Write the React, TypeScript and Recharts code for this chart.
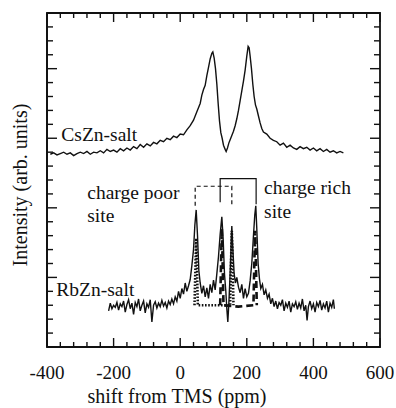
import React from 'react';
import { LineChart, Line, XAxis, YAxis, ReferenceDot, ReferenceArea, Label } from 'recharts';

const serif = '"Liberation Serif", "Times New Roman", serif';
const ink = '#111';
const PLOT_W = 333;
const PLOT_H = 334;
const W = 396;
const H = 408;

// x axis (ppm)
const shiftTicks = [-400, -200, 0, 200, 400, 600];
const shiftMinorTicks = [-360, -320, -280, -240, -160, -120, -80, -40, 40, 80, 120, 160, 240, 280, 320, 360, 440, 480, 520, 560];
// y axis (arb. units, no labels)
const intensityTicks = [0, 1, 2, 3, 4];
const intensityMinorTicks = [0.2, 0.4, 0.6, 0.8, 1.2, 1.4, 1.6, 1.8, 2.2, 2.4, 2.6, 2.8, 3.2, 3.4, 3.6, 3.8, 4.2, 4.4, 4.6];

// [shift, intensity]
const csZnSpectrum: [number, number][] = [
  [-390, 2.77], [-380, 2.79], [-370, 2.76], [-360, 2.78], [-350, 2.8], [-340, 2.77], [-330, 2.79], [-320, 2.75],
  [-310, 2.78], [-300, 2.8], [-290, 2.78], [-280, 2.81], [-270, 2.77], [-260, 2.8], [-250, 2.79], [-240, 2.82],
  [-230, 2.79], [-220, 2.84], [-210, 2.81], [-200, 2.83], [-190, 2.8], [-180, 2.85], [-170, 2.82], [-160, 2.86],
  [-150, 2.83], [-140, 2.88], [-130, 2.85], [-120, 2.91], [-110, 2.87], [-100, 2.92], [-90, 2.89], [-80, 2.94],
  [-70, 2.92], [-60, 2.97], [-50, 2.95], [-40, 3.0], [-30, 2.98], [-20, 3.03], [-10, 3.01], [0, 3.06],
  [10, 3.05], [20, 3.12], [30, 3.18], [40, 3.26], [50, 3.38], [60, 3.5], [65, 3.62], [70, 3.7],
  [75, 3.76], [80, 3.9], [85, 4.02], [90, 4.14], [95, 4.22], [98, 4.24], [102, 4.15], [106, 4.0],
  [110, 3.78], [114, 3.5], [118, 3.25], [122, 3.08], [126, 3.0], [130, 2.9], [135, 2.84], [138, 2.81],
  [142, 2.86], [146, 2.93], [150, 2.98], [155, 3.04], [160, 3.1], [165, 3.18], [170, 3.28], [175, 3.4],
  [180, 3.54], [185, 3.68], [190, 3.82], [195, 3.98], [200, 4.18], [204, 4.32], [207, 4.3], [210, 4.18],
  [214, 4.0], [218, 3.78], [222, 3.6], [226, 3.48], [230, 3.42], [235, 3.32], [240, 3.22], [245, 3.14],
  [250, 3.09], [260, 3.06], [270, 3.0], [280, 2.97], [290, 2.95], [300, 2.9], [310, 2.93], [320, 2.87],
  [330, 2.9], [340, 2.86], [350, 2.84], [360, 2.88], [370, 2.85], [380, 2.87], [390, 2.83], [400, 2.86],
  [410, 2.82], [420, 2.85], [430, 2.81], [440, 2.84], [450, 2.8], [460, 2.82], [470, 2.79], [480, 2.81],
  [490, 2.79],
];

const rbZnSpectrum: [number, number][] = [
  [-215, 0.52], [-210, 0.63], [-205, 0.55], [-200, 0.6], [-195, 0.57], [-190, 0.64], [-185, 0.53], [-180, 0.62],
  [-175, 0.58], [-170, 0.66], [-165, 0.5], [-160, 0.61], [-155, 0.68], [-150, 0.55], [-145, 0.63], [-140, 0.47],
  [-135, 0.64], [-130, 0.58], [-125, 0.69], [-120, 0.52], [-115, 0.6], [-110, 0.66], [-105, 0.49], [-100, 0.62],
  [-95, 0.57], [-90, 0.68], [-85, 0.36], [-80, 0.6], [-75, 0.65], [-70, 0.56], [-65, 0.63], [-60, 0.58],
  [-55, 0.67], [-50, 0.59], [-45, 0.64], [-40, 0.56], [-35, 0.66], [-30, 0.61], [-25, 0.69], [-20, 0.62],
  [-15, 0.72], [-10, 0.66], [-5, 0.8], [0, 0.7], [5, 0.84], [10, 0.76], [15, 0.92], [20, 0.8],
  [25, 0.88], [30, 0.97], [35, 1.17], [40, 1.4], [44, 1.75], [48, 1.97], [52, 1.6], [56, 1.1],
  [60, 0.92], [65, 0.77], [70, 0.88], [75, 0.72], [80, 0.85], [85, 0.7], [90, 0.9], [95, 0.78],
  [100, 0.96], [105, 0.82], [110, 1.05], [115, 1.3], [120, 1.62], [125, 1.87], [129, 1.55], [133, 1.05],
  [137, 0.8], [140, 0.55], [143, 0.36], [146, 0.62], [149, 0.95], [152, 1.35], [155, 1.74], [158, 1.42],
  [162, 1.05], [166, 0.92], [170, 1.0], [175, 0.86], [180, 0.78], [185, 0.9], [190, 0.7], [195, 0.84],
  [200, 0.72], [205, 0.77], [210, 0.95], [215, 1.2], [220, 1.6], [224, 1.9], [227, 2.03], [230, 1.7],
  [234, 1.2], [238, 0.98], [242, 0.84], [247, 0.9], [252, 0.75], [257, 0.82], [262, 0.7], [267, 0.76],
  [272, 0.62], [277, 0.7], [282, 0.58], [287, 0.66], [292, 0.55], [297, 0.64], [302, 0.6], [307, 0.68],
  [312, 0.52], [317, 0.63], [322, 0.57], [327, 0.66], [332, 0.5], [337, 0.62], [342, 0.58], [347, 0.65],
  [352, 0.54], [357, 0.63], [362, 0.56], [367, 0.69], [372, 0.52], [377, 0.6], [381, 0.38], [385, 0.58],
  [390, 0.66], [395, 0.55], [400, 0.62], [405, 0.5], [410, 0.64], [415, 0.58], [420, 0.67], [425, 0.53],
  [430, 0.62], [435, 0.56], [440, 0.66], [445, 0.5], [450, 0.63], [455, 0.57], [460, 0.68], [463, 0.55],
];

// fitted components of RbZn-salt
const poorSiteFit: [number, number][] = [
  [43, 0.6], [46.5, 1.3], [48, 1.56], [49.5, 1.3], [53, 0.6], [100, 0.6],
  [150, 0.6], [153.5, 1.4], [155, 1.67], [156.5, 1.4], [160, 0.6],
];
const richSiteFit: [number, number][] = [
  [120, 0.6], [123.5, 1.4], [125, 1.7], [126.5, 1.4], [130, 0.6], [175, 0.58],
  [220, 0.6], [223.5, 1.4], [225, 1.67], [226.5, 1.4], [230, 0.6],
];

// site assignment brackets
const poorBracket: [number, number][] = [[45, 2.03], [45, 2.31], [155, 2.31], [155, 2.05]];
const richBracket: [number, number][] = [[120, 2.08], [120, 2.42], [228, 2.42], [228, 2.05]];

const notes = [
  { text: 'CsZn-salt', x: -357, y: 2.96 },
  { text: 'charge poor', x: -279, y: 2.12 },
  { text: 'site', x: -279, y: 1.79 },
  { text: 'charge rich', x: 252, y: 2.2 },
  { text: 'site', x: 252, y: 1.86 },
  { text: 'RbZn-salt', x: -372, y: 0.74 },
];

const pts = (arr: [number, number][]) => arr.map(([x, y]) => ({ x, y }));
const allShiftTicks = [...shiftTicks, ...shiftMinorTicks].sort((a, b) => a - b);
const allIntensityTicks = [...intensityTicks, ...intensityMinorTicks].sort((a, b) => a - b);

// bottom axis tick: inward mark at bottom and top, label for majors
const ShiftTick = (p: any) => {
  const v = p.payload.value;
  const major = shiftTicks.includes(v);
  const len = major ? 9 : 5;
  return (
    <g>
      <line x1={p.x} x2={p.x} y1={p.y} y2={p.y - len} stroke={ink} strokeWidth={1.4} />
      <line x1={p.x} x2={p.x} y1={p.y - PLOT_H} y2={p.y - PLOT_H + len} stroke={ink} strokeWidth={1.4} />
      {major && (
        <text x={p.x} y={p.y + 32} textAnchor="middle" fontFamily={serif} fontSize={19} fill={ink}>{v}</text>
      )}
    </g>
  );
};

// left axis tick: inward mark at left and right, no labels
const IntensityTick = (p: any) => {
  const major = intensityTicks.includes(p.payload.value);
  const len = major ? 10 : 6;
  return (
    <g>
      <line x1={p.x} x2={p.x + len} y1={p.y} y2={p.y} stroke={ink} strokeWidth={1.4} />
      <line x1={p.x + PLOT_W} x2={p.x + PLOT_W - len} y1={p.y} y2={p.y} stroke={ink} strokeWidth={1.4} />
    </g>
  );
};

const noteShape = (text: string) => (p: any) => (
  <text x={p.cx} y={p.cy} fontFamily={serif} fontSize={19.5} fill={ink}>{text}</text>
);

// spectra layer: plot area set by margins, axes hidden
const Spectra = () => (
  <LineChart width={W} height={H} margin={{ top: 13, right: 16, bottom: 61, left: 47 }}>
    <XAxis xAxisId="s" type="number" dataKey="x" domain={[-400, 600]} allowDataOverflow hide />
    <YAxis yAxisId="s" type="number" domain={[0, 4.8]} allowDataOverflow hide />
    <Line xAxisId="s" yAxisId="s" dataKey="y" dot={false} isAnimationActive={false} data={pts(csZnSpectrum)} stroke={ink} strokeWidth={1.4} />
    <Line xAxisId="s" yAxisId="s" dataKey="y" dot={false} isAnimationActive={false} data={pts(poorSiteFit)} stroke={ink} strokeWidth={2.6} strokeDasharray="1.6 1.6" />
    <Line xAxisId="s" yAxisId="s" dataKey="y" dot={false} isAnimationActive={false} data={pts(richSiteFit)} stroke={ink} strokeWidth={2.6} strokeDasharray="7 4" />
    <Line xAxisId="s" yAxisId="s" dataKey="y" dot={false} isAnimationActive={false} data={pts(rbZnSpectrum)} stroke={ink} strokeWidth={1.4} />
  </LineChart>
);

// frame layer: axes, ticks, titles, brackets and notes
const Frame = () => (
  <LineChart width={W} height={H} margin={{ top: 13, right: 16, bottom: 0, left: 0 }}>
    <XAxis
      xAxisId="main" type="number" dataKey="x" domain={[-400, 600]} allowDataOverflow
      ticks={allShiftTicks} interval={0} height={61} tickLine={false} tickSize={0} tickMargin={0}
      axisLine={{ stroke: ink, strokeWidth: 1.8 }} tick={<ShiftTick />}
    >
      <Label content={(props: any) => {
        const vb = props.viewBox || { x: 47, y: 347, height: 61 };
        return (
          <text x={vb.x + 130} y={vb.y + vb.height - 5} textAnchor="middle" fontFamily={serif} fontSize={20} fill={ink}>
            shift from TMS (ppm)
          </text>
        );
      }} />
    </XAxis>
    <YAxis
      yAxisId="main" type="number" domain={[0, 4.8]} allowDataOverflow width={47}
      ticks={allIntensityTicks} interval={0} tick={<IntensityTick />} tickLine={false} tickSize={0} tickMargin={0}
      axisLine={{ stroke: ink, strokeWidth: 1.8 }}
    >
      <Label content={(props: any) => {
        const vb = props.viewBox || { x: 0, y: 13, height: 334 };
        const cx = vb.x + 27;
        const cy = vb.y + vb.height / 2 + 5;
        return (
          <text x={cx} y={cy} transform={`rotate(-90 ${cx} ${cy})`} textAnchor="middle" fontFamily={serif} fontSize={20} fill={ink}>
            Intensity (arb. units)
          </text>
        );
      }} />
    </YAxis>
    <ReferenceArea xAxisId="main" yAxisId="main" x1={-400} x2={600} y1={0} y2={4.8}
      fill="none" fillOpacity={0} stroke={ink} strokeWidth={1.8} ifOverflow="visible" />
    <Line xAxisId="main" yAxisId="main" dataKey="y" dot={false} isAnimationActive={false} data={pts(poorBracket)} stroke={ink} strokeWidth={1.2} strokeDasharray="4 3" />
    <Line xAxisId="main" yAxisId="main" dataKey="y" dot={false} isAnimationActive={false} data={pts(richBracket)} stroke={ink} strokeWidth={1.2} />
    {notes.map((n, i) => (
      <ReferenceDot key={i} xAxisId="main" yAxisId="main" x={n.x} y={n.y} r={1} ifOverflow="visible" shape={noteShape(n.text)} />
    ))}
  </LineChart>
);

const App = () => (
  <div style={{ position: 'absolute', left: 0, top: 0, width: W, height: H, background: '#fff' }}>
    <div style={{ position: 'absolute', left: 0, top: 0 }}><Spectra /></div>
    <div style={{ position: 'absolute', left: 0, top: 0, pointerEvents: 'none' }}><Frame /></div>
  </div>
);

export default App;
